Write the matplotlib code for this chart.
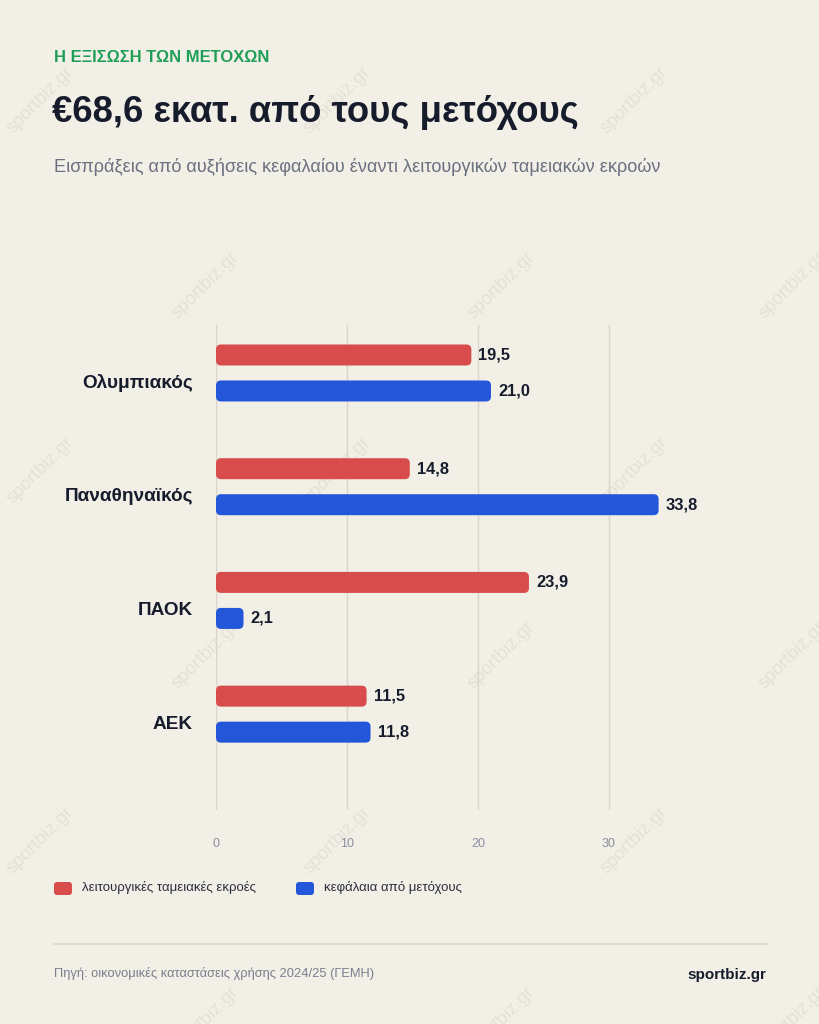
import matplotlib
matplotlib.use("Agg")
import matplotlib.pyplot as plt
from matplotlib.patches import FancyBboxPatch
from matplotlib.lines import Line2D

# δεδομένα (εκατ. €)
omades = ["Ολυμπιακός", "Παναθηναϊκός", "ΠΑΟΚ", "ΑΕΚ"]
ekroes = [19.5, 14.8, 23.9, 11.5]
metoxoi = [21.0, 33.8, 2.1, 11.8]
xticks = [0, 10, 20, 30]

BG = "#F2EFE7"
RED = "#D94C4C"
BLUE = "#2356D9"
DARK = "#161C2C"
GREY = "#6B7080"
GRID = "#D9D5CA"
FONT = ["Liberation Sans", "DejaVu Sans"]

plt.rcParams["font.family"] = FONT

W, H = 819, 1024
fig = plt.figure(figsize=(W / 100, H / 100), dpi=100, facecolor=BG)


def fx(px):
    return px / W


def fy(py):
    return 1 - py / H


# υδατογράφημα
rows = [100, 285, 470, 655, 840, 1020]
for i, ry in enumerate(rows):
    cols = [40, 337, 634] if i % 2 == 0 else [205, 501, 792]
    for cx in cols:
        fig.text(fx(cx), fy(ry), "sportbiz.gr", rotation=45, fontsize=13.5,
                 color="#E5E1D8", ha="center", va="center", zorder=-5)

# κεφαλίδα
fig.text(fx(54), fy(58), "Η ΕΞΙΣΩΣΗ ΤΩΝ ΜΕΤΟΧΩΝ", fontsize=11.9, fontweight="bold",
         color="#1E9E56", ha="left", va="center")
fig.text(fx(52), fy(112), "€68,6 εκατ. από τους μετόχους", fontsize=26.3,
         fontweight="bold", color=DARK, ha="left", va="center")
fig.text(fx(54), fy(167), "Εισπράξεις από αυξήσεις κεφαλαίου έναντι λειτουργικών ταμειακών εκροών",
         fontsize=13.1, color=GREY, ha="left", va="center")

# άξονες
ax = fig.add_axes([fx(216), fy(810), fx(766) - fx(216), fy(325) - fy(810)])
ax.set_facecolor("none")
xmax = 42
ax.set_xlim(0, xmax)
ymin, ymax = -0.422, 3.843
ax.set_ylim(ymax, ymin)
for s in ax.spines.values():
    s.set_visible(False)
ax.set_yticks([])
ax.set_xticks(xticks)
ax.set_xticklabels([str(t) for t in xticks], color="#8A8FA0", fontsize=9)
ax.tick_params(axis="x", length=0, pad=20)
for t in xticks:
    ax.axvline(t, color=GRID, lw=1, zorder=0)

ax_w = 766 - 216
ax_h = 810 - 325
px_x = ax_w / xmax
px_y = ax_h / (ymax - ymin)
aspect = px_x / px_y

off = 18 / px_y
bh = 21 / px_y
radius = 5 / px_x


def rounded_bars(vals, shift, color):
    bars = ax.barh([i + shift for i in range(len(vals))], vals, height=bh,
                   color=color, alpha=0)
    for b, v in zip(bars, vals):
        p = FancyBboxPatch((b.get_x(), b.get_y()), b.get_width(), b.get_height(),
                           boxstyle=f"round,pad=0,rounding_size={radius}",
                           mutation_aspect=aspect, fc=color, ec="none", zorder=3)
        ax.add_patch(p)
        ax.annotate(f"{v:.1f}".replace(".", ","), (v, b.get_y() + b.get_height() / 2),
                    xytext=(7, 0), textcoords="offset pixels", ha="left", va="center",
                    fontsize=11.8, fontweight="bold", color=DARK)


rounded_bars(ekroes, -off, RED)
rounded_bars(metoxoi, off, BLUE)

for i, name in enumerate(omades):
    ax.annotate(name, (0, i + 10 / px_y), xytext=(-23, 0), textcoords="offset pixels",
                ha="right", va="center", fontsize=13.7, fontweight="bold", color=DARK)

# υπόμνημα
legend = [(54, RED, "λειτουργικές ταμειακές εκροές"),
          (296, BLUE, "κεφάλαια από μετόχους")]
for lx, col, lab in legend:
    mk = FancyBboxPatch((fx(lx), fy(895)), fx(18), fy(882) - fy(895),
                        boxstyle="round,pad=0,rounding_size=0.004",
                        mutation_aspect=W / H, transform=fig.transFigure,
                        fc=col, ec="none")
    fig.patches.append(mk)
    fig.text(fx(lx + 28), fy(888), lab, fontsize=9.5, color="#2A2F3C",
             ha="left", va="center")

# υποσέλιδο
fig.add_artist(Line2D([fx(54), fx(766)], [fy(944), fy(944)], color="#DDD8CC", lw=1.5))
fig.text(fx(54), fy(973), "Πηγή: οικονομικές καταστάσεις χρήσης 2024/25 (ΓΕΜΗ)",
         fontsize=9.3, color="#7A7F8E", ha="left", va="center")
fig.text(fx(766), fy(975), "sportbiz.gr", fontsize=11, fontweight="bold",
         color=DARK, ha="right", va="center")

fig.savefig("out.png", dpi=100, facecolor=BG)
